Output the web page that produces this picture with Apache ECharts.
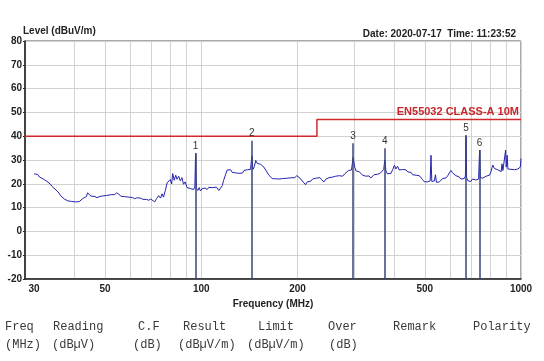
<!DOCTYPE html>
<html><head><meta charset="utf-8">
<script src="https://cdn.jsdelivr.net/npm/echarts@6/dist/echarts.min.js"></script>
<style>html,body{margin:0;padding:0;background:#fff}#c{width:544px;height:361px}</style>
</head><body><div id="c"></div><script>
// ---- data ----
const traceFreq = [30.0,30.4,30.8,31.2,31.6,32.0,32.4,32.9,33.3,33.7,34.1,34.6,35.0,35.4,35.9,36.3,36.8,37.3,37.8,38.3,38.8,39.3,39.8,40.4,40.9,41.5,42.0,42.6,43.2,43.7,44.1,44.6,45.2,45.8,46.5,47.2,47.9,48.5,49.2,49.9,50.6,51.3,52.1,52.8,53.6,54.4,55.2,56.0,56.8,57.6,58.4,59.3,60.1,61.0,61.9,62.8,63.7,64.6,65.6,66.5,67.5,68.5,69.5,70.5,71.5,72.5,73.6,74.6,75.4,76.2,77.2,78.2,79.1,80.0,80.8,81.4,82.3,83.2,84.0,85.0,86.0,87.0,88.0,89.0,90.3,91.5,92.5,93.6,94.7,95.5,96.0,96.5,97.5,98.5,99.4,100.5,101.6,102.8,104.3,105.5,107.0,108.5,110.0,111.5,112.2,113.5,115.0,116.3,117.5,119.1,120.5,122.0,123.5,125.0,126.5,128.0,129.5,131.0,132.7,134.5,136.0,137.7,139.3,141.0,142.6,144.0,145.0,146.5,148.0,149.7,151.5,153.3,155.2,157.0,159.0,161.0,162.8,164.8,166.8,169.0,171.0,173.0,175.0,177.2,179.5,182.0,184.5,187.0,190.4,193.0,196.0,199.0,202.0,204.6,207.0,209.5,212.0,214.5,217.0,220.0,223.0,226.0,229.0,232.0,235.0,238.0,242.0,245.0,248.0,251.0,254.0,257.0,260.0,263.5,267.0,270.0,273.0,277.0,281.0,285.0,289.0,292.0,295.0,298.5,302.0,305.0,308.0,312.0,316.0,320.0,323.0,327.0,331.0,335.0,339.0,343.0,347.0,351.0,356.0,360.0,364.0,369.0,372.0,375.0,378.0,382.0,387.0,392.0,397.0,402.0,406.0,411.0,416.0,421.0,426.0,431.0,436.0,442.0,448.0,453.0,458.0,464.0,470.0,476.0,481.0,487.0,492.0,498.0,504.0,510.0,516.0,520.0,523.0,526.0,531.0,536.0,540.0,544.0,549.0,555.0,562.0,569.0,576.0,583.0,590.0,597.0,604.0,611.0,618.0,626.0,634.0,641.0,649.0,657.0,664.0,670.0,673.0,676.0,683.0,689.0,697.0,705.0,710.0,715.0,722.0,730.0,737.0,742.0,746.0,752.0,760.0,769.0,778.0,787.0,797.0,806.0,816.0,826.0,836.0,846.0,857.0,867.0,872.0,878.0,888.0,895.0,899.0,905.0,910.0,920.0,930.0,940.0,954.0,965.0,977.0,989.0,995.0,1000.0];
const traceLevel = [24.2,23.5,23.9,22.8,23.2,22.1,22.6,21.0,21.4,19.9,19.0,18.2,17.8,17.0,16.1,15.0,14.2,13.6,13.0,12.8,12.3,12.6,12.0,12.4,12.9,12.5,13.2,13.8,13.3,14.6,16.2,15.4,14.8,14.2,14.7,14.1,14.6,15.2,14.9,15.6,15.1,15.8,15.4,16.1,15.5,16.2,15.7,14.8,14.3,14.6,14.1,14.4,13.9,14.2,13.7,14.1,13.6,14.0,13.5,13.9,13.4,13.1,13.6,12.9,12.4,13.8,15.0,14.0,15.8,14.4,17.2,20.4,19.6,21.8,19.9,24.3,21.5,23.6,21.9,23.2,21.2,22.6,19.8,20.8,18.4,19.2,18.0,18.6,17.6,19.0,32.8,18.2,17.2,18.4,17.0,17.9,17.3,18.2,17.6,18.5,17.8,18.4,17.9,18.6,18.1,17.2,17.8,19.2,21.5,23.8,25.8,25.2,25.9,24.8,25.3,24.6,25.2,24.4,25.1,24.5,25.6,25.0,25.9,25.3,26.1,31.8,26.0,27.2,29.8,28.6,29.3,28.2,28.5,27.0,25.8,25.2,23.6,22.8,22.2,22.9,22.1,22.6,22.0,22.8,22.2,23.0,22.3,22.9,22.5,23.2,22.6,23.4,22.8,22.3,21.2,20.4,19.6,20.8,21.6,21.1,22.0,21.5,22.4,21.8,22.6,21.7,20.8,21.9,21.2,22.6,22.0,22.8,22.3,23.2,22.6,23.4,23.9,23.2,24.2,24.8,25.6,26.4,25.8,31.0,27.0,25.4,26.2,25.0,24.2,23.6,24.4,23.2,22.6,23.3,22.4,22.9,23.8,23.1,24.0,23.5,24.6,25.2,26.0,30.0,25.4,24.2,24.9,24.4,26.0,27.8,26.2,27.4,25.8,25.1,26.0,25.2,25.9,25.0,24.3,24.8,23.8,23.2,23.6,22.9,23.4,22.6,21.8,20.9,20.2,20.8,20.0,21.2,32.0,21.0,21.8,21.2,23.8,20.6,21.4,20.8,21.6,22.2,23.0,22.5,23.4,24.6,25.6,24.6,23.8,23.4,22.6,22.9,22.0,21.6,22.2,23.2,39.8,22.4,21.2,21.8,21.0,22.0,21.4,22.2,21.6,22.4,22.0,34.0,22.6,21.8,22.4,22.1,23.2,22.6,23.6,25.2,27.9,26.4,27.2,25.9,26.6,25.1,28.4,25.6,26.2,34.2,27.0,32.0,26.2,25.6,26.1,25.4,25.9,25.4,26.2,25.8,27.0,30.6];
const limitFreq = [28, 230, 230, 1000];
const limitLevel = [40, 40, 47, 47];
const limitName = 'EN55032 CLASS-A 10M';
const markerFreq = [96, 144, 298.5, 375, 673, 742];
const markerLevel = [32.8, 38.1, 37.0, 34.9, 40.5, 34.2];
const markerName = ['1', '2', '3', '4', '5', '6'];
const xLabelFreqs = [30, 50, 100, 200, 500, 1000];
const xGridFreqs = [40, 50, 60, 70, 80, 90, 100, 200, 300, 400, 500, 600, 700, 800, 900, 1000];
const headerRow1 = ['Freq', 'Reading', 'C.F', 'Result', 'Limit', 'Over', 'Remark', 'Polarity'];
const headerRow2 = ['(MHz)', '(dBµV)', '(dB)', '(dBµV/m)', '(dBµV/m)', '(dB)'];
const dateText = 'Date: 2020-07-17  Time: 11:23:52';

// ---- layout ----
const axisMinFreq = 28.1;
const row1X = [5, 53, 138, 183, 258, 328, 393, 473];
const row2X = [5, 52, 133, 178, 247, 329];
const lg = Math.log10;
const boldFont = 'Liberation Sans, Arial, sans-serif';

const chart = echarts.init(document.getElementById('c'), null, {renderer: 'canvas'});
const graphic = [];
headerRow1.forEach((t, i) => graphic.push({type: 'text', left: row1X[i], top: 321,
  style: {text: t, font: '12px "Liberation Mono", monospace', fill: '#3a3a3a'}}));
headerRow2.forEach((t, i) => graphic.push({type: 'text', left: row2X[i], top: 339,
  style: {text: t, font: '12px "Liberation Mono", monospace', fill: '#3a3a3a'}}));

const lastLimit = limitFreq.length - 1;

chart.setOption({
  animation: false,
  backgroundColor: '#fff',
  title: {text: dateText, right: 23, top: 24,
    textStyle: {fontFamily: boldFont, fontWeight: 'bold', fontSize: 10, color: '#222'}},
  grid: {left: 25, right: 23, top: 41, bottom: 82, show: true, borderColor: '#555', borderWidth: 1, outerBoundsMode: 'none'},
  xAxis: {
    type: 'value', min: lg(axisMinFreq), max: 3,
    axisLine: {show: true, onZero: false, lineStyle: {color: '#222', width: 1.5}},
    axisTick: {show: false, customValues: xGridFreqs.map(lg)},
    splitLine: {show: true, lineStyle: {color: '#d2d2d2', width: 1}},
    axisLabel: {customValues: xLabelFreqs.map(lg), formatter: v => String(Math.round(Math.pow(10, v))),
      fontFamily: boldFont, fontWeight: 'bold', fontSize: 10, color: '#222', margin: 5},
    name: 'Frequency (MHz)', nameLocation: 'middle', nameGap: 20,
    nameTextStyle: {fontFamily: boldFont, fontWeight: 'bold', fontSize: 10, color: '#222'}
  },
  yAxis: {
    type: 'value', min: -20, max: 80, interval: 10,
    axisLine: {show: true, lineStyle: {color: '#222', width: 1.5}},
    axisTick: {show: true, length: 2, lineStyle: {color: '#222'}},
    splitLine: {show: true, lineStyle: {color: '#d2d2d2', width: 1}},
    axisLabel: {fontFamily: boldFont, fontWeight: 'bold', fontSize: 10, color: '#222', margin: 3},
    name: 'Level (dBuV/m)', nameLocation: 'end', nameGap: 0,
    nameTextStyle: {fontFamily: boldFont, fontWeight: 'bold', fontSize: 10, color: '#222', align: 'left', padding: [0, 0, 0, -2]}
  },
  graphic: graphic,
  series: [
    {
      name: 'markers', type: 'line', data: [], z: 2, silent: true,
      markLine: {
        silent: true, symbol: ['none', 'none'], animation: false,
        lineStyle: {color: '#38447a', width: 1.5, type: 'solid'},
        label: {show: true, position: 'end', formatter: '{b}', distance: 2,
          fontFamily: boldFont, fontSize: 10, color: '#333'},
        data: markerFreq.map((f, i) => [
          {coord: [lg(f), -20], name: markerName[i]},
          {coord: [lg(f), markerLevel[i]], name: markerName[i]}
        ])
      }
    },
    {
      name: 'trace', type: 'line', z: 4, showSymbol: false, silent: true,
      lineStyle: {color: '#2323b0', width: 1},
      data: traceFreq.map((f, i) => [lg(f), traceLevel[i]])
    },
    {
      name: 'limit', type: 'line', z: 3, showSymbol: false, symbol: 'none', silent: true, clip: true,
      lineStyle: {color: '#d0292b', width: 1.5},
      data: limitFreq.map((f, i) => [lg(f), limitLevel[i]]),
      markPoint: {
        silent: true, animation: false, symbol: 'circle', symbolSize: 0,
        label: {show: true, position: 'top', align: 'right', distance: 2, formatter: limitName,
          fontFamily: boldFont, fontWeight: 'bold', fontSize: 11, color: '#c8262a', offset: [-2, 0]},
        data: [{coord: [lg(limitFreq[lastLimit]), limitLevel[lastLimit]]}]
      }
    }
  ]
});
</script></body></html>
